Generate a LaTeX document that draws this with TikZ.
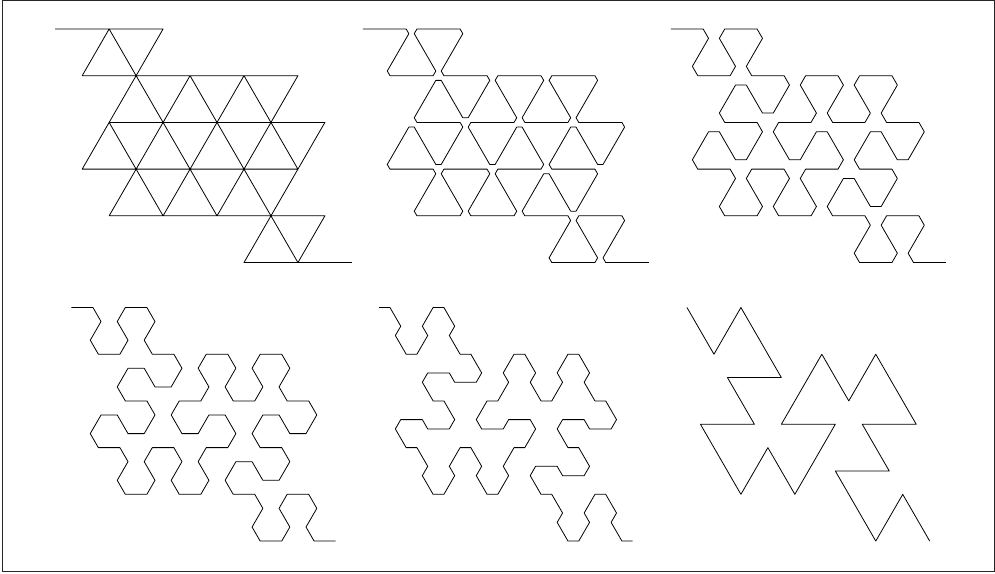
\documentclass[tikz,border=0pt]{standalone}
\begin{document}
\def\hu{26.97}
\def\rh{46.71}
\def\edgelist{0/0/2/0, 2/0/1/1, 1/1/3/1, 3/1/2/0, 2/0/4/0, 4/0/3/1, 3/1/5/1,
5/1/4/2, 4/2/3/1, 3/1/2/2, 2/2/4/2, 4/2/3/3, 3/3/2/2, 2/2/1/3,
1/3/3/3, 3/3/2/4, 2/4/4/4, 4/4/3/3, 3/3/5/3, 5/3/4/4, 4/4/6/4,
6/4/5/3, 5/3/7/3, 7/3/6/2, 6/2/5/3, 5/3/4/2, 4/2/6/2, 6/2/5/1,
5/1/7/1, 7/1/6/2, 6/2/8/2, 8/2/7/1, 7/1/9/1, 9/1/8/2, 8/2/10/2,
10/2/9/3, 9/3/8/2, 8/2/7/3, 7/3/9/3, 9/3/8/4, 8/4/7/3, 7/3/6/4,
6/4/8/4, 8/4/7/5, 7/5/9/5, 9/5/8/4, 8/4/10/4, 10/4/9/5, 9/5/11/5}
\newcommand\gosperpanel[3]{%
  \draw[curve] ({#1+\hu*2*#3},{#2})
    \foreach \ua/\ra/\ub/\rb in \edgelist {
      -- ({#1+\hu*(\ua+#3*(\ub-\ua))},{#2+\rh*(\ra+#3*(\rb-\ra))})
      -- ({#1+\hu*(\ua+(1-#3)*(\ub-\ua))},{#2+\rh*(\ra+(1-#3)*(\rb-\ra))})
    };
}
\begin{tikzpicture}[x=1pt,y=-1pt,
  curve/.style={line width=0.8pt,line join=round,black},
  frame/.style={line width=0.8pt,black!85}]
\useasboundingbox (0,0) rectangle (995,573);
\draw[frame] (2.5,0.6) rectangle (994.4,571.6);
\gosperpanel{55.2}{29}{0}
\gosperpanel{357.6}{29}{0.1}
\gosperpanel{660}{29}{0.2}
\gosperpanel{55.2}{307.5}{0.3}
\gosperpanel{357.6}{307.5}{0.4}
\gosperpanel{660}{307.5}{0.5}
\end{tikzpicture}
\end{document}
